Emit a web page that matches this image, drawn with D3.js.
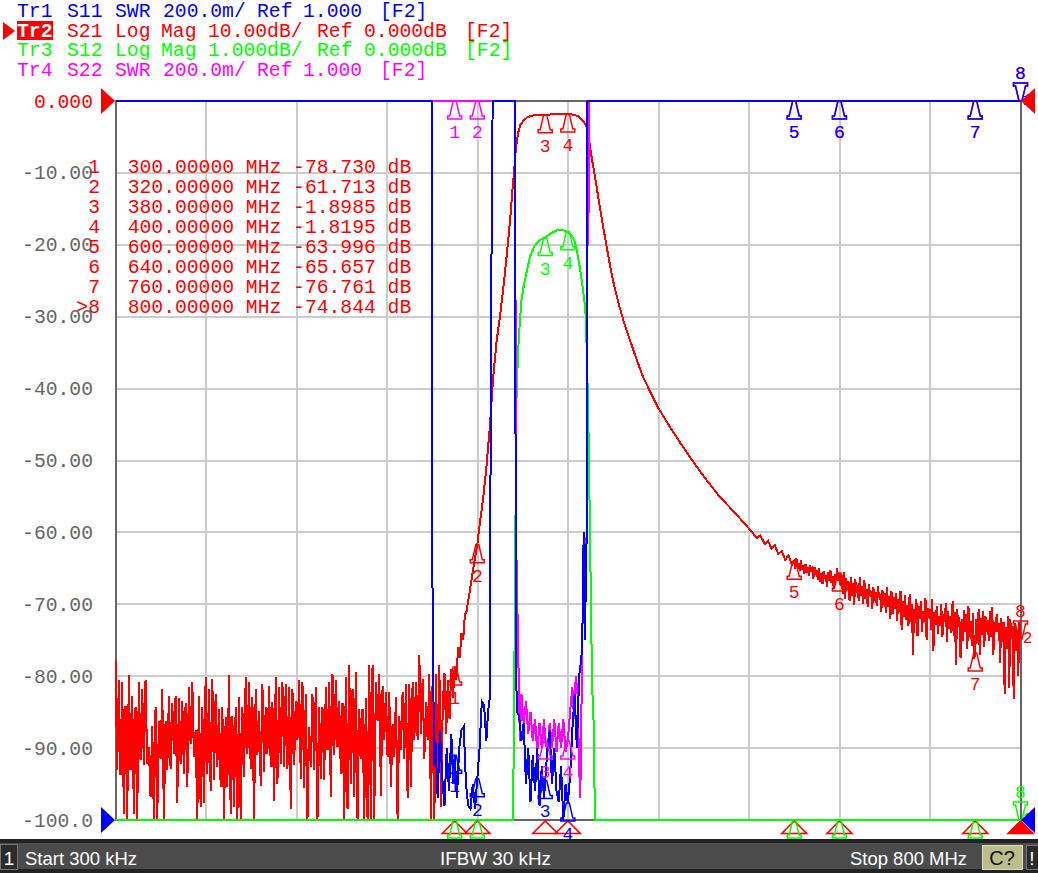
<!DOCTYPE html>
<html>
<head>
<meta charset="utf-8">
<script src="https://cdn.jsdelivr.net/npm/d3@7"></script>
<style>
  body { margin: 0; background: #fff; }
  svg { display: block; }
  text { font-family: "Liberation Mono", "DejaVu Sans Mono", monospace; }
  .bar text { font-family: "Liberation Sans", Arial, sans-serif; }
</style>
</head>
<body>
<svg width="1038" height="873"></svg>
<script>
// ---- data ----
const startFreq = 0.3, stopFreq = 800;          // MHz
const xGridFreqs = [80.27, 160.24, 240.21, 320.18, 400.15, 480.12, 560.09, 640.06, 720.03];
const yTickValues = [0, -10, -20, -30, -40, -50, -60, -70, -80, -90, -100];
const yTickLabels = ["0.000", "-10.00", "-20.00", "-30.00", "-40.00", "-50.00", "-60.00", "-70.00", "-80.00", "-90.00", "-100.0"];

const headerTexts = [
    ["Tr1", "S11", "SWR", "200.0m/", "Ref", "1.000", "[F2]"],
    ["Tr2", "S21", "Log", "Mag", "10.00dB/", "Ref", "0.000dB", "[F2]"],
    ["Tr3", "S12", "Log", "Mag", "1.000dB/", "Ref", "0.000dB", "[F2]"],
    ["Tr4", "S22", "SWR", "200.0m/", "Ref", "1.000", "[F2]"]
];

const markerFreqs = [300, 320, 380, 400, 600, 640, 760, 800];
const markerNames = ["1", "2", "3", "4", "5", "6", "7", ">8"];
const markerFreqText = ["300.00000", "320.00000", "380.00000", "400.00000", "600.00000", "640.00000", "760.00000", "800.00000"];
const markerS21Text = ["-78.730", "-61.713", "-1.8985", "-1.8195", "-63.996", "-65.657", "-76.761", "-74.844"];

// S21 (dB) noise floor below the passband, linear sweep from 0.3 MHz
const s21LowStart = 0.3, s21LowStep = 1.475;
const s21Low = [
    -77.7, -93.1, -80.5, -93.8, -80.8, -99.1, -84.1, -101, -79.9, -93.1,
    -82.7, -99.1, -84.3, -102, -80.8, -91.7, -81.8, -92.4, -80.6, -92.2,
    -89.9, -96.8, -86.9, -101, -84.3, -103, -86.2, -91.5, -81.8, -101,
    -86.2, -93.1, -82.7, -92.9, -83.8, -90.8, -82.7, -97.7, -83.1, -92.2,
    -83.4, -93.6, -83.8, -95.4, -81.5, -89.4, -80.8, -91.3, -87.5, -102,
    -82.7, -98.2, -84.3, -97.7, -80.1, -93.6, -81.8, -95.9, -80.4, -94.5,
    -82.5, -92.6, -84.5, -95.4, -84.3, -101, -85.7, -95.4, -79.9, -99.1,
    -85.5, -98.2, -84.3, -102, -82.9, -101, -84.3, -94.0, -80.1, -90.8,
    -80.8, -92.9, -82.9, -102, -81.8, -91.0, -84.8, -95.2, -81.1, -93.3,
    -84.3, -90.8, -81.3, -92.6, -83.6, -97.3, -80.1, -95.0, -81.5, -92.2,
    -80.8, -92.6, -81.1, -92.9, -81.5, -98.4, -81.8, -92.4, -83.4, -88.9,
    -80.6, -94.3, -80.8, -95.6, -82.5, -101, -87.1, -92.6, -82.5, -93.1,
    -81.5, -102, -84.3, -94.3, -84.3, -94.5, -81.5, -90.3, -80.8, -96.8,
    -79.7, -91.0, -80.6, -89.9, -83.4, -93.6, -83.8, -101, -80.1, -98.4,
    -78.5, -95.0, -81.8, -96.8, -79.4, -102, -84.5, -91.5, -84.5, -101,
    -83.1, -103, -78.5, -104, -78.5, -104, -80.8, -86.2, -79.7, -96.6,
    -81.3, -88.9, -82.2, -91.3, -82.2, -95.4, -86.6, -91.3, -82.9, -101,
    -85.5, -90.3, -82.2, -91.5, -81.1, -97.0, -81.1, -95.4, -80.8, -88.9,
    -80.8, -88.9, -77.1, -88.0, -80.4, -91.5, -83.6, -88.9, -79.7, -102,
    -79.9, -103, -79.7, -93.1, -78.5, -98.2
];

// S21 (MHz, dB) through the filter edges and roll-off
const s21Edge = [
    [289.5, -84], [291, -79.5], [292.5, -88], [294, -80.5], [295.5, -86], [297, -79], [298.5, -83],
    [300, -78.73], [301.5, -80.5], [303, -76], [304.5, -77.5], [306, -74], [307.5, -75], [309, -71.5],
    [310.5, -71], [312, -69.5], [314, -67.5], [316, -65.5], [318, -63.5], [320, -61.71], [322, -59],
    [325, -55.5], [328, -51], [331, -45.5], [334, -38.5], [337, -33.5], [340, -30], [343, -26],
    [346, -21.5], [349, -16.5], [351, -12.5], [353, -8.8], [354, -6.8], [356, -4.5], [358, -3.3],
    [361, -2.7], [364, -2.3], [368, -2.05], [373, -1.95], [380, -1.8985], [390, -1.85], [400, -1.8195],
    [405, -1.9], [409, -2.1], [412, -2.5], [414.5, -3.0], [416.5, -3.6], [418, -4.5], [419.5, -6.2],
    [421, -7.8], [423, -9.6], [425.5, -12], [428, -14.5], [431, -17.3], [434, -20], [437, -22.6],
    [440, -25], [443, -27], [446, -28.8], [450, -31], [455, -33.3], [460, -35.6], [466, -38.2],
    [472, -40.2], [480, -42.7], [490, -45.3], [500, -47.7], [510, -50], [520, -52.2], [534, -55],
    [549, -57.5], [563, -60], [567, -60.8], [570, -60.4], [574, -61.6], [577, -61.2], [580, -62.3],
    [583, -61.8], [586, -63], [589, -62.6], [592, -63.8], [595, -63.2], [598, -64.5]
];

// S21 (dB) noisy tail, 600 to 800 MHz in 1 MHz steps
const s21HighStart = 600, s21HighStep = 1;
const s21High = [
    -64.0, -65.1, -63.6, -64.9, -64.3, -65.4, -63.9, -65.2, -64.6, -65.8,
    -64.4, -65.6, -64.9, -66.0, -64.5, -65.3, -65.0, -66.4, -64.8, -65.9,
    -65.3, -66.6, -65.0, -66.9, -65.6, -67.2, -65.4, -66.5, -65.9, -67.6,
    -65.5, -66.8, -65.2, -67.0, -66.1, -67.9, -65.8, -66.6, -64.9, -66.8,
    -65.66, -67.4, -66.0, -68.6, -65.5, -69.2, -66.4, -68.0, -66.8, -69.6,
    -66.2, -68.8, -67.0, -70.1, -66.5, -68.4, -67.3, -69.5, -66.2, -68.9,
    -67.4, -70.0, -66.6, -69.2, -67.9, -70.4, -67.2, -68.8, -68.1, -70.6,
    -67.6, -69.5, -68.3, -70.2, -67.4, -69.1, -68.6, -71.0, -68.0, -70.1,
    -68.4, -71.2, -67.6, -70.4, -68.9, -72.1, -68.2, -71.4, -69.0, -70.6,
    -68.5, -72.3, -69.3, -71.1, -68.1, -73.6, -69.5, -71.8, -68.7, -72.2,
    -70.1, -73.0, -68.6, -72.4, -70.0, -77.0, -70.6, -72.6, -69.2, -74.4,
    -70.3, -72.0, -69.5, -73.8, -70.9, -72.4, -69.1, -74.9, -70.5, -71.9,
    -70.6, -73.6, -69.3, -76.5, -71.1, -72.9, -70.3, -74.1, -71.6, -73.0,
    -70.0, -74.6, -71.3, -72.5, -69.8, -75.2, -70.9, -73.4, -71.7, -74.0,
    -69.6, -74.4, -71.1, -78.4, -70.6, -73.2, -71.8, -77.4, -72.1, -75.1,
    -70.8, -73.9, -71.4, -76.2, -70.2, -74.6, -72.3, -75.8, -71.2, -77.6,
    -76.76, -72.1, -75.4, -70.6, -77.1, -71.9, -74.3, -70.9, -76.0, -71.6,
    -73.9, -72.2, -75.1, -71.0, -74.5, -70.4, -77.0, -72.5, -73.8, -71.3,
    -73.8, -72.6, -78.1, -71.9, -75.3, -72.4, -82.5, -73.1, -76.2, -71.7,
    -81.6, -72.1, -74.8, -73.0, -83.1, -72.6, -76.5, -73.6, -80.0, -72.4,
    -74.84
];

// S12 (MHz, dB) on the 1 dB/div scale
const s12Points = [
    [0.3, -12], [351.5, -12], [352.3, -8.9], [354.5, -4.2], [356, -3.5], [357.5, -3.1], [359, -2.77],
    [361.5, -2.53], [364, -2.35], [366.5, -2.17], [370, -2.03], [374, -1.95], [377, -1.92], [380, -1.90],
    [385, -1.84], [390, -1.80], [395, -1.79], [400, -1.82], [403, -1.86], [406, -1.95], [408.5, -2.12],
    [411, -2.35], [413.5, -2.63], [415.5, -2.9], [417, -3.6], [418.5, -4.8], [420, -6.5], [421.5, -8.2],
    [422.5, -8.4], [424, -12], [800, -12]
];

// S11 (MHz, SWR)
const s11Points = [
    [0.3, 20], [279.6, 20], [280, 1.82], [281, 1.41], [282, 1.15], [283, 1.22], [285, 1.06], [287, 1.25],
    [289, 1.12], [291, 1.04], [293, 1.2], [295, 1.08], [297, 1.24], [299, 1.1], [300, 1.18], [302, 1.06],
    [304, 1.2], [306, 1.25], [308, 1.26], [310, 1.1], [312, 1.04], [314, 1.03], [316, 1.1], [318, 1.03],
    [320, 1.115], [322, 1.2], [324, 1.33], [326, 1.32], [328, 1.22], [329.5, 1.3], [331, 1.34],
    [331.9, 2.15], [332.8, 2.72], [333.6, 20], [353.4, 20], [354, 1.47], [355, 1.3], [357, 1.29],
    [359, 1.22], [361, 1.27], [363, 1.1], [365, 1.2], [367, 1.05], [369, 1.18], [371, 1.08], [373, 1.2],
    [375, 1.04], [377, 1.15], [379, 1.06], [380, 1.11], [382, 1.2], [384, 1.25], [386, 1.1], [388, 1.2],
    [390, 1.08], [392, 1.05], [394, 1.15], [396, 1.0], [398, 1.1], [400, 1.047], [402, 1.12], [404, 1.25],
    [406, 1.35], [408, 1.2], [410, 1.4], [412, 1.45], [413, 1.55], [414, 1.8], [415, 1.5], [416.5, 1.75],
    [417.4, 20], [800, 20]
];

// S22 (MHz, SWR)
const s22Points = [
    [0.3, 20], [353.4, 20], [354.2, 1.8], [357.6, 1.22], [359, 1.35], [361, 1.27], [363, 1.33], [365, 1.24],
    [367, 1.3], [369, 1.22], [371, 1.28], [373, 1.19], [375, 1.27], [377, 1.2], [379, 1.28], [380, 1.22],
    [382, 1.19], [384, 1.27], [386, 1.2], [388, 1.28], [390, 1.19], [392, 1.27], [394, 1.2], [396, 1.28],
    [398, 1.19], [400, 1.22], [402, 1.3], [404, 1.37], [405.5, 1.28], [407, 1.4], [408.5, 1.36],
    [410, 1.15], [411, 1.06], [412, 1.3], [414, 1.8], [416.5, 1.76], [417.4, 2.6], [418.6, 2.72],
    [418.7, 20], [800, 20]
];

// ---- layout ----
const plot = { left: 115.5, right: 1020.5, top: 101, bottom: 820 };
const RED = "#ff0000", GREEN = "#00ff00", BLUE = "#0000ff", MAGENTA = "#ff00ff";
const monoSize = 19.7;

const svg = d3.select("svg");

const x = d3.scaleLinear().domain([startFreq, stopFreq]).range([plot.left, plot.right]);
const yDb = d3.scaleLinear().domain([-100, 0]).range([plot.bottom, plot.top]).clamp(true);
const yDb1 = d3.scaleLinear().domain([-10, 0]).range([plot.bottom, plot.top]).clamp(true);
const ySwr = d3.scaleLinear().domain([1, 3]).range([plot.bottom, plot.top]).clamp(true);

// assemble the S21 sweep
const s21Points = s21Low.map((v, i) => [s21LowStart + i * s21LowStep, v])
    .concat(s21Edge)
    .concat(s21High.map((v, i) => [s21HighStart + i * s21HighStep, v]));

// grid
const grid = svg.append("g").attr("shape-rendering", "crispEdges")
    .attr("stroke", "#cccccc").attr("stroke-width", 2);
grid.append("g").selectAll("line").data(xGridFreqs).join("line")
    .attr("x1", d => x(d)).attr("x2", d => x(d))
    .attr("y1", plot.top).attr("y2", plot.bottom);
grid.append("g").selectAll("line").data(yTickValues.slice(1, -1)).join("line")
    .attr("x1", plot.left).attr("x2", plot.right)
    .attr("y1", d => yDb(d)).attr("y2", d => yDb(d));

// frame
svg.append("rect")
    .attr("x", plot.left).attr("y", plot.top)
    .attr("width", plot.right - plot.left).attr("height", plot.bottom - plot.top)
    .attr("fill", "none").attr("stroke", "#666").attr("stroke-width", 2)
    .attr("shape-rendering", "crispEdges");

// y tick labels
svg.append("g").selectAll("text").data(yTickValues).join("text")
    .attr("x", 93).attr("y", d => yDb(d) + 6.5)
    .attr("text-anchor", "end")
    .attr("font-size", monoSize)
    .attr("fill", (d, i) => i === 0 ? RED : "#666")
    .text((d, i) => yTickLabels[i]);

// traces
const traces = [
    { pts: s21Points, y: yDb, color: RED, num: "2" },
    { pts: s12Points, y: yDb1, color: GREEN, num: "3" },
    { pts: s22Points, y: ySwr, color: MAGENTA, num: "4" },
    { pts: s11Points, y: ySwr, color: BLUE, num: "1" }
];
const traceG = svg.append("g");
traces.forEach(t => {
    traceG.append("path")
        .datum(t.pts)
        .attr("fill", "none")
        .attr("stroke", t.color)
        .attr("stroke-width", 2)
        .attr("shape-rendering", "crispEdges")
        .attr("d", d3.line().x(d => x(d[0])).y(d => t.y(d[1])));
});

function valueAt(pts, f) {
    const i = d3.bisector(d => d[0]).left(pts, f);
    if (i <= 0) return pts[0][1];
    if (i >= pts.length) return pts[pts.length - 1][1];
    const a = pts[i - 1], b = pts[i];
    if (b[0] === f) return b[1];
    return a[1] + (b[1] - a[1]) * (f - a[0]) / (b[0] - a[0]);
}

// stimulus indicators under the grid
const stim = svg.append("g");
markerFreqs.forEach((f, i) => {
    const mx = x(f), active = i === markerFreqs.length - 1;
    stim.append("path")
        .attr("d", `M${mx - 12.5},833.5 L${mx},821 L${mx + 12.5},833.5 Z`)
        .attr("fill", active ? RED : "none")
        .attr("stroke", RED).attr("stroke-width", 1.6);
});

// marker symbols
const markG = svg.append("g");
function bell(px, py, color, label, inverted) {
    const s = inverted ? -1 : 1;
    markG.append("path")
        .attr("d", `M${px - 1.5},${py} L${px + 1.5},${py} L${px + 5},${py + 15 * s} L${px + 7},${py + 15 * s}` +
            ` L${px + 7},${py + 18 * s} L${px - 7},${py + 18 * s} L${px - 7},${py + 15 * s} L${px - 5},${py + 15 * s} Z`)
        .attr("fill", "none").attr("stroke", color).attr("stroke-width", 1.5);
    const ly = inverted ? py - 22 : py + 37;
    if (ly < 846) {           // labels that would sit under the status bar are not shown
        markG.append("text")
            .attr("x", px).attr("y", ly)
            .attr("text-anchor", "middle")
            .attr("font-size", 18)
            .attr("fill", color)
            .text(label);
    }
}
traces.forEach(t => {
    markerFreqs.forEach((f, i) => {
        const px = x(f), py = t.y(valueAt(t.pts, f));
        const active = i === markerFreqs.length - 1;
        bell(px, py, t.color, String(i + 1), active);
        if (active && t.color !== MAGENTA) {
            markG.append("text")
                .attr("x", px + 7).attr("y", py + 4)
                .attr("text-anchor", "middle")
                .attr("font-size", 16)
                .attr("fill", t.color)
                .text(t.num);
        }
    });
});

// reference position arrows
const refG = svg.append("g");
[[plot.top, RED], [plot.bottom, BLUE]].forEach(([ry, c]) => {
    refG.append("path").attr("d", `M101,${ry - 13} L115,${ry} L101,${ry + 13} Z`).attr("fill", c);
    refG.append("path").attr("d", `M1035,${ry - 13} L1021,${ry} L1035,${ry + 13} Z`).attr("fill", c);
});

// marker table
const table = svg.append("g").attr("fill", RED).attr("font-size", monoSize);
markerFreqs.forEach((f, i) => {
    const by = 173 + i * 20;
    table.append("text").attr("x", 100).attr("y", by).attr("text-anchor", "end").text(markerNames[i]);
    table.append("text").attr("x", 127.7).attr("y", by)
        .text(`${markerFreqText[i]} MHz ${markerS21Text[i]} dB`);
});

// trace header
const headerX = [
    [17, 67, 115, 163, 257, 303, 380],
    [17, 67, 115, 161, 208, 317, 364, 465],
    [17, 67, 115, 161, 208, 317, 364, 465],
    [17, 67, 115, 163, 257, 303, 380]
];
const headerColors = [BLUE, RED, GREEN, MAGENTA];
const head = svg.append("g").attr("font-size", monoSize);
headerTexts.forEach((fields, r) => {
    const by = 17 + r * 19.7;
    if (r === 1) {
        head.append("path").attr("d", "M3,22 L15,31 L3,40 Z").attr("fill", RED);
        head.append("rect").attr("x", 17).attr("y", 21).attr("width", 36).attr("height", 19).attr("fill", RED);
    }
    fields.forEach((txt, k) => {
        head.append("text")
            .attr("x", headerX[r][k]).attr("y", by)
            .attr("fill", (r === 1 && k === 0) ? "#fff" : headerColors[r])
            .attr("font-weight", (r === 1 && k === 0) ? "bold" : null)
            .text(txt);
    });
});

// status bar
const bar = svg.append("g").attr("class", "bar");
bar.append("rect").attr("x", 0).attr("y", 839).attr("width", 1038).attr("height", 34).attr("fill", "#222");
bar.append("rect").attr("x", 0).attr("y", 843).attr("width", 1038).attr("height", 26).attr("fill", "#4b4b4b");
bar.append("rect").attr("x", 0.5).attr("y", 844.5).attr("width", 17).attr("height", 25)
    .attr("fill", "#2b2b2b").attr("stroke", "#777");
bar.append("text").attr("x", 9).attr("y", 865).attr("text-anchor", "middle")
    .attr("font-size", 19).attr("fill", "#fff").text("1");
bar.append("text").attr("x", 25).attr("y", 865).attr("font-size", 19).attr("fill", "#fff")
    .attr("textLength", 112).attr("lengthAdjust", "spacingAndGlyphs").text("Start 300 kHz");
bar.append("text").attr("x", 440).attr("y", 865).attr("font-size", 19).attr("fill", "#fff")
    .attr("textLength", 111).attr("lengthAdjust", "spacingAndGlyphs").text("IFBW 30 kHz");
bar.append("text").attr("x", 850).attr("y", 865).attr("font-size", 19).attr("fill", "#fff")
    .attr("textLength", 117).attr("lengthAdjust", "spacingAndGlyphs").text("Stop 800 MHz");
bar.append("rect").attr("x", 982.5).attr("y", 845.5).attr("width", 40).attr("height", 24)
    .attr("fill", "#bdbd8b").attr("stroke", "#dcdcb8");
bar.append("text").attr("x", 1002).attr("y", 865).attr("text-anchor", "middle")
    .attr("font-size", 20).attr("fill", "#111").text("C?");
bar.append("rect").attr("x", 1026.5).attr("y", 845.5).attr("width", 12).attr("height", 24)
    .attr("fill", "#2b2b2b").attr("stroke", "#777");
bar.append("text").attr("x", 1032).attr("y", 865).attr("text-anchor", "middle")
    .attr("font-size", 19).attr("fill", "#fff").text("!");
</script>
</body>
</html>
